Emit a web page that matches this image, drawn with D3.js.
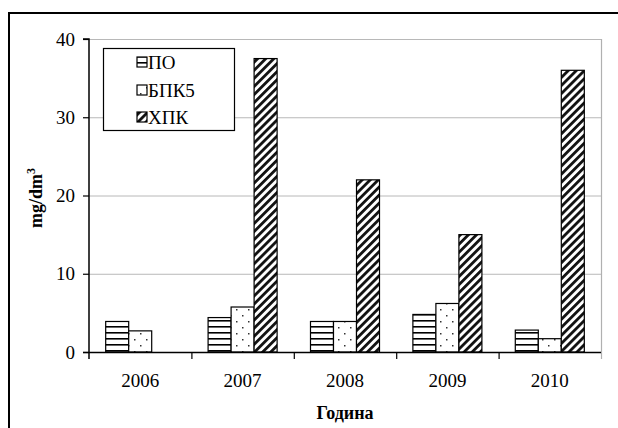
<!DOCTYPE html>
<html><head><meta charset="utf-8">
<script src="https://cdn.jsdelivr.net/npm/d3@7"></script>
<style>html,body{margin:0;padding:0;background:#fff}svg{display:block}text{font-family:"Liberation Serif","Times New Roman",serif}</style>
</head><body>
<script>
const years = ["2006","2007","2008","2009","2010"];
const seriesNames = ["ПО","БПК5","ХПК"];
const valuesPO = [3.9, 4.4, 3.9, 4.8, 2.8];
const valuesBPK5 = [2.7, 5.75, 3.9, 6.2, 1.7];
const valuesXPK = [0, 37.5, 22, 15, 36];
const yTicks = [0, 10, 20, 30, 40];

(function(){
const W = 618, H = 428;
const svg = d3.select("body").append("svg").attr("width", W).attr("height", H);
const defs = svg.append("defs");

// patterns
const pH = defs.append("pattern").attr("id","pH").attr("patternUnits","userSpaceOnUse").attr("width",8).attr("height",6);
pH.append("rect").attr("width",8).attr("height",6).attr("fill","#fff");
pH.append("rect").attr("y",2).attr("width",8).attr("height",1.6).attr("fill","#000");
const pD = defs.append("pattern").attr("id","pD").attr("patternUnits","userSpaceOnUse").attr("width",12).attr("height",12);
pD.append("rect").attr("width",12).attr("height",12).attr("fill","#fff");
pD.append("rect").attr("x",2).attr("y",3).attr("width",1.5).attr("height",1.5).attr("fill","#333");
pD.append("rect").attr("x",8).attr("y",9).attr("width",1.5).attr("height",1.5).attr("fill","#333");
const pS = defs.append("pattern").attr("id","pS").attr("patternUnits","userSpaceOnUse").attr("width",5.7).attr("height",10)
  .attr("patternTransform","rotate(45)");
pS.append("rect").attr("width",5.7).attr("height",10).attr("fill","#fff");
pS.append("rect").attr("width",2.8).attr("height",10).attr("fill","#111");
const fills = ["url(#pH)","url(#pD)","url(#pS)"];

const pl = 89, pr = 601, pt = 39, pb = 352;
const x0 = d3.scaleBand().domain(years).range([pl, pr]).padding(0);
const x1 = d3.scaleBand().domain(seriesNames).range([x0.bandwidth()*0.163, x0.bandwidth()*0.837]).padding(0);
const y = d3.scaleLinear().domain([0, 40]).range([pb, pt]);

// outer border
svg.append("rect").attr("x",9).attr("y",13).attr("width",W+10).attr("height",H+10)
  .attr("fill","none").attr("stroke","#000").attr("stroke-width",2);

// gridlines
svg.append("g").selectAll("line").data(yTicks.filter(d=>d>0)).join("line")
  .attr("x1",pl).attr("x2",pr).attr("y1",d=>y(d)+0.5).attr("y2",d=>y(d)+0.5)
  .attr("stroke","#b8b8b8").attr("stroke-width",1);
// right border of plot area
svg.append("line").attr("x1",pr+0.5).attr("x2",pr+0.5).attr("y1",pt).attr("y2",pb+7)
  .attr("stroke","#b0b0b0").attr("stroke-width",1.2);

// bars
const data = years.map((yr,i)=>({year:yr, vals:[valuesPO[i], valuesBPK5[i], valuesXPK[i]]}));
const g = svg.append("g");
data.forEach(d=>{
  d.vals.forEach((v,j)=>{
    if (v<=0) return;
    g.append("rect")
      .attr("x", x0(d.year)+x1(seriesNames[j]))
      .attr("y", y(v))
      .attr("width", x1.bandwidth())
      .attr("height", y(0)-y(v))
      .attr("fill", fills[j]).attr("stroke","#000").attr("stroke-width",1.2);
  });
});

// y axis
const yAxis = d3.axisLeft(y).tickValues(yTicks).tickSize(6).tickPadding(8);
const ya = svg.append("g").attr("transform",`translate(${pl},0)`).call(yAxis);
ya.select(".domain").attr("stroke","#000").attr("stroke-width",1.5).attr("d",`M-6,${pt}H0V${pb+7}`);
ya.selectAll(".tick line").attr("stroke","#000").attr("stroke-width",1.2);
ya.selectAll(".tick text").attr("font-size",19).attr("fill","#000")
  .style("font-family",'"Liberation Serif","Times New Roman",serif');

// x axis
const boundaries = years.map(d=>x0(d)).concat([pr]);
svg.append("line").attr("x1",pl-6).attr("x2",pr).attr("y1",pb+0.5).attr("y2",pb+0.5)
  .attr("stroke","#000").attr("stroke-width",1.5);
svg.append("g").selectAll("line").data(boundaries.slice(1,-1)).join("line")
  .attr("x1",d=>d+0.5).attr("x2",d=>d+0.5).attr("y1",pb).attr("y2",pb+7)
  .attr("stroke","#000").attr("stroke-width",1.2);
svg.append("g").selectAll("text").data(years).join("text")
  .attr("x",d=>x0(d)+x0.bandwidth()/2).attr("y",387).attr("text-anchor","middle")
  .attr("font-size",19).text(d=>d);

// axis titles
svg.append("text").attr("x",345).attr("y",419).attr("text-anchor","middle")
  .attr("font-size",18).attr("font-weight","bold").text("Година");
const yt = svg.append("text").attr("transform","translate(42,198) rotate(-90)").attr("text-anchor","middle")
  .attr("font-size",18).attr("font-weight","bold");
yt.append("tspan").text("mg/dm");
yt.append("tspan").attr("font-size",12).attr("dy",-7).text("3");

// legend
const lg = svg.append("g");
lg.append("rect").attr("x",103.5).attr("y",48.5).attr("width",131).attr("height",82)
  .attr("fill","#fff").attr("stroke","#000").attr("stroke-width",1.2);
const rowY = [62, 90, 117];
seriesNames.forEach((s,j)=>{
  lg.append("rect").attr("x",137).attr("y",rowY[j]-5).attr("width",10).attr("height",10)
    .attr("fill",fills[j]).attr("stroke","#000").attr("stroke-width",1.2);
  lg.append("text").attr("x",148).attr("y",rowY[j]+6.5).attr("font-size",19).text(s);
});
})();
</script>
</body></html>
